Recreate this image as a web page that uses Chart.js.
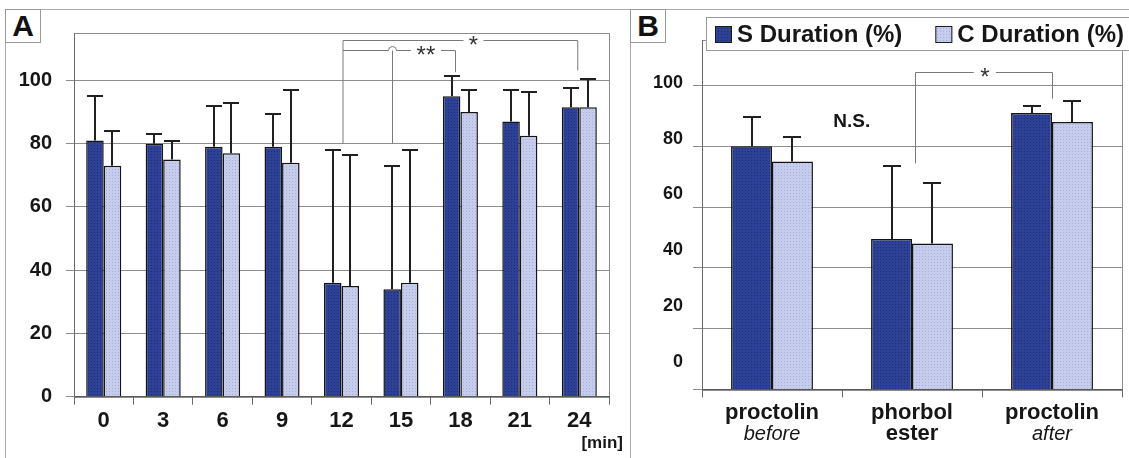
<!DOCTYPE html>
<html>
<head>
<meta charset="utf-8">
<script src="https://cdn.jsdelivr.net/npm/chart.js@4.4.1/dist/chart.umd.min.js"></script>
<style>
  html, body { margin: 0; padding: 0; background: #fff; }
  #wrap { position: relative; width: 1129px; height: 458px; overflow: hidden; }
  .frame { position: absolute; border: 1px solid #ababab; box-sizing: border-box; }
  canvas { position: absolute; top: 0; }
  .tag { position: absolute; box-sizing: border-box; border: 1px solid #9a9a9a; background: #fff;
         font: bold 30px "Liberation Sans", Arial, sans-serif; color: #111; text-align: center;
         line-height: 32px; z-index: 5; }
</style>
</head>
<body>
<div id="wrap">
  <div class="frame" style="left:5px;top:9px;width:626px;height:470px;"></div>
  <div class="frame" style="left:630px;top:9px;width:520px;height:470px;"></div>
  <canvas id="chartA" width="630" height="458" style="left:0"></canvas>
  <canvas id="chartB" width="499" height="458" style="left:630px"></canvas>
  <div class="tag" style="left:5px;top:9px;width:36px;height:34px;">A</div>
  <div class="tag" style="left:630px;top:9px;width:36px;height:34px;">B</div>
</div>
<script>
// ---- values ----
const minutes   = ['0', '3', '6', '9', '12', '15', '18', '21', '24'];
const sMeanA    = [81, 80, 79, 79, 36, 34, 95, 87, 91.5];
const sSdA      = [14, 3, 13, 10.5, 42, 39, 6.5, 10, 6];
const cMeanA    = [73, 75, 77, 74, 35, 36, 90, 82.5, 91.5];
const cSdA      = [11, 6, 16, 23, 41.5, 42, 7, 14, 9];

const treatLine1 = ['proctolin', 'phorbol', 'proctolin'];
const treatLine2 = ['before', 'ester', 'after'];
const treatItalic = [true, false, true];
const sMeanB    = [80, 49.5, 91];
const sSdB      = [9.5, 24, 2.3];
const cMeanB    = [75, 48, 88];
const cSdB      = [8, 20, 7];

const yTicks      = [0, 20, 40, 60, 80, 100];
const seriesNames = ['S Duration (%)', 'C Duration (%)'];

// ---- styling ----
const FONT = '"Liberation Sans", Arial, Helvetica, sans-serif';
const INK = '#161616';
const GRID = '#8d8d8d';
Chart.defaults.font.family = FONT;
Chart.defaults.color = INK;

function dotted(ctx, base, dot) {
  const c = document.createElement('canvas');
  c.width = 3; c.height = 3;
  const g = c.getContext('2d');
  g.fillStyle = base; g.fillRect(0, 0, 3, 3);
  g.fillStyle = dot; g.fillRect(1, 1, 1, 1);
  return ctx.createPattern(c, 'repeat');
}

// error bars: mean + SD, upward only
const errorBars = {
  id: 'errorBars',
  afterDatasetsDraw(chart, args, opts) {
    const ctx = chart.ctx, y = chart.scales.y;
    ctx.save();
    ctx.strokeStyle = '#202020';
    ctx.lineWidth = 2;
    chart.data.datasets.forEach((ds, di) => {
      const sd = opts.sd[di];
      chart.getDatasetMeta(di).data.forEach((bar, i) => {
        const top = Math.round(y.getPixelForValue(ds.data[i] + sd[i]));
        const x = Math.round(bar.x);
        ctx.beginPath();
        ctx.moveTo(x, bar.y);
        ctx.lineTo(x, top);
        ctx.moveTo(x - opts.cap / 2, top);
        ctx.lineTo(x + opts.cap / 2, top);
        ctx.stroke();
      });
    });
    ctx.restore();
  }
};

// thin border round the plot area
const plotFrame = {
  id: 'plotFrame',
  beforeDraw(chart) {
    const { ctx, chartArea: a } = chart;
    ctx.save();
    ctx.strokeStyle = GRID;
    ctx.lineWidth = 1;
    ctx.strokeRect(Math.round(a.left) + 0.5, Math.round(a.top) + 0.5,
                   Math.round(a.right - a.left), Math.round(a.bottom - a.top));
    ctx.restore();
  }
};

function star(ctx, text, x, yLine, size) {
  ctx.font = `${size}px ${FONT}`;
  ctx.fillStyle = '#333';
  ctx.textAlign = 'center';
  ctx.textBaseline = 'alphabetic';
  ctx.fillText(text, x, yLine + size * 0.52);
}

// significance brackets and axis unit for panel A
const notesA = {
  id: 'notesA',
  afterDatasetsDraw(chart) {
    const { ctx, scales: { x, y } } = chart;
    const sBars = chart.getDatasetMeta(0).data;
    const x12 = x.getPixelForValue(4) + 1.5;
    const x15 = Math.round(sBars[5].x) + 0.5;
    const x18 = Math.round(sBars[6].x) + 3.5;
    const x24 = x.getPixelForValue(8) - 1.5;
    const yTop = Math.round(y.getPixelForValue(112.7)) + 0.5;
    const yIn = Math.round(y.getPixelForValue(109.5)) + 0.5;
    const y80 = y.getPixelForValue(80);
    const s1 = x.getPixelForValue(6.22), s2 = x.getPixelForValue(5.42);
    ctx.save();
    ctx.strokeStyle = '#7a7a7a';
    ctx.lineWidth = 1;
    ctx.beginPath();
    // 12 -> 24 (*)
    ctx.moveTo(x12, y80); ctx.lineTo(x12, yTop); ctx.lineTo(s1 - 10, yTop);
    ctx.moveTo(s1 + 10, yTop); ctx.lineTo(x24, yTop); ctx.lineTo(x24, y.getPixelForValue(103.2));
    // 12/15 -> 18 (**)
    ctx.moveTo(x12, yIn); ctx.lineTo(x15 - 4, yIn);
    ctx.arc(x15, yIn, 4, Math.PI, 0, false);
    ctx.lineTo(s2 - 15, yIn);
    ctx.moveTo(s2 + 15, yIn); ctx.lineTo(x18, yIn); ctx.lineTo(x18, y.getPixelForValue(102.6));
    ctx.moveTo(x15, y80); ctx.lineTo(x15, yIn);
    ctx.stroke();
    ctx.restore();
    star(ctx, '*', s1, yTop, 24);
    star(ctx, '**', s2, yIn, 24);
    ctx.save();
    ctx.font = `bold 17px ${FONT}`;
    ctx.fillStyle = INK;
    ctx.textAlign = 'right';
    ctx.textBaseline = 'middle';
    ctx.fillText('[min]', 623, 443);
    ctx.restore();
  }
};

// second label line, bracket, N.S. and legend for panel B
const notesB = {
  id: 'notesB',
  afterDatasetsDraw(chart) {
    const { ctx, scales: { x, y } } = chart;
    const xa = Math.round(x.getPixelForValue(1)) + 3.5;
    const xb = Math.round(x.getPixelForValue(2)) + 0.5;
    const yl = Math.round(y.getPixelForValue(104.6)) + 0.5;
    const sx = x.getPixelForValue(1.52);
    ctx.save();
    ctx.strokeStyle = '#7a7a7a';
    ctx.lineWidth = 1;
    ctx.beginPath();
    ctx.moveTo(xa, y.getPixelForValue(74.4)); ctx.lineTo(xa, yl); ctx.lineTo(sx - 11, yl);
    ctx.moveTo(sx + 11, yl); ctx.lineTo(xb, yl); ctx.lineTo(xb, y.getPixelForValue(95.7));
    ctx.stroke();
    ctx.restore();
    star(ctx, '*', sx, yl, 24);
    ctx.save();
    ctx.fillStyle = INK;
    ctx.font = `bold 19px ${FONT}`;
    ctx.textAlign = 'center';
    ctx.textBaseline = 'middle';
    ctx.fillText('N.S.', x.getPixelForValue(0.57), y.getPixelForValue(88.2));
    treatLine2.forEach((t, i) => {
      ctx.font = treatItalic[i] ? `italic 20px ${FONT}` : `bold 22px ${FONT}`;
      ctx.fillText(t, x.getPixelForTick(i), 434);
    });
    ctx.restore();
  },
  afterDraw(chart) {
    const ctx = chart.ctx;
    const ds = chart.data.datasets;
    ctx.save();
    ctx.fillStyle = '#fff';
    ctx.fillRect(76, 17, 440, 33);
    ctx.strokeStyle = '#9a9a9a';
    ctx.lineWidth = 1;
    ctx.strokeRect(76.5, 17.5, 440, 33);
    ctx.font = `bold 24px ${FONT}`;
    ctx.textBaseline = 'middle';
    ctx.textAlign = 'left';
    let xPos = 85;
    ds.forEach((d, i) => {
      ctx.fillStyle = d.backgroundColor;
      ctx.fillRect(xPos, 26, 17, 17);
      ctx.strokeStyle = '#1a1a1a';
      ctx.strokeRect(xPos + 0.5, 26.5, 16, 16);
      ctx.fillStyle = INK;
      ctx.fillText(d.label, xPos + 22, 35);
      xPos += 22 + ctx.measureText(d.label).width + 33;
    });
    ctx.restore();
  }
};

function yGridAxis(width, tickLen, showLabels) {
  return {
    min: 0, max: 115,
    afterBuildTicks: s => { s.ticks = yTicks.map(v => ({ value: v })); },
    afterFit: s => { s.width = width; },
    grid: { color: GRID, lineWidth: 1, tickLength: tickLen, drawTicks: true },
    border: { color: '#6a6a6a', width: 1 },
    ticks: { display: showLabels, padding: 14, color: INK, font: { size: 20, weight: 'bold' } }
  };
}

function xAxis(height, pad) {
  return {
    afterFit: s => { s.height = height; },
    grid: { drawOnChartArea: false, drawTicks: true, tickLength: 8, color: '#6a6a6a', offset: true },
    border: { color: '#5a5a5a', width: 1 },
    ticks: { padding: pad, color: INK, font: { size: 22, weight: 'bold' }, maxRotation: 0, autoSkip: false }
  };
}

// ---- panel A ----
const ctxA = document.getElementById('chartA').getContext('2d');
const darkA = dotted(ctxA, '#2d4297', '#1f2c6e');
const lightA = dotted(ctxA, '#c6ccec', '#a8b0d8');
new Chart(ctxA, {
  type: 'bar',
  data: {
    labels: minutes,
    datasets: [
      { label: seriesNames[0], data: sMeanA, backgroundColor: darkA, borderColor: '#151515', borderWidth: 1.5 },
      { label: seriesNames[1], data: cMeanA, backgroundColor: lightA, borderColor: '#151515', borderWidth: 1.5 }
    ]
  },
  options: {
    responsive: false, animation: false,
    categoryPercentage: 0.59, barPercentage: 1,
    layout: { padding: { left: 0, top: 33, right: 21, bottom: 0 } },
    scales: { x: xAxis(61.3, 3), y: yGridAxis(74, 8, true) },
    plugins: { legend: { display: false }, tooltip: { enabled: false },
               errorBars: { sd: [sSdA, cSdA], cap: 16 } }
  },
  plugins: [plotFrame, errorBars, notesA]
});

// ---- panel B ----
const ctxB = document.getElementById('chartB').getContext('2d');
const darkB = dotted(ctxB, '#2d4297', '#1f2c6e');
const lightB = dotted(ctxB, '#c6ccec', '#a8b0d8');
const yB = yGridAxis(9, 9, false);
yB.weight = 0;
new Chart(ctxB, {
  type: 'bar',
  data: {
    labels: treatLine1,
    datasets: [
      { label: seriesNames[0], data: sMeanB, yAxisID: 'y', backgroundColor: darkB, borderColor: '#151515', borderWidth: 1.5 },
      { label: seriesNames[1], data: cMeanB, yAxisID: 'y', backgroundColor: lightB, borderColor: '#151515', borderWidth: 1.5 }
    ]
  },
  options: {
    responsive: false, animation: false,
    categoryPercentage: 0.585, barPercentage: 1,
    layout: { padding: { left: 0, top: 40, right: 7, bottom: 0 } },
    scales: {
      x: xAxis(68.5, 2),
      y: yB,
      yl: {
        type: 'linear', position: 'left', weight: 1,
        min: -9.9, max: 115.4,
        afterBuildTicks: s => { s.ticks = yTicks.map(v => ({ value: v })); },
        afterFit: s => { s.width = 63; },
        grid: { display: false, drawTicks: false },
        border: { display: false },
        ticks: { padding: 10, color: INK, font: { size: 18, weight: 'bold' } }
      }
    },
    plugins: { legend: { display: false }, tooltip: { enabled: false },
               errorBars: { sd: [sSdB, cSdB], cap: 18 } }
  },
  plugins: [plotFrame, errorBars, notesB]
});
</script>
</body>
</html>
